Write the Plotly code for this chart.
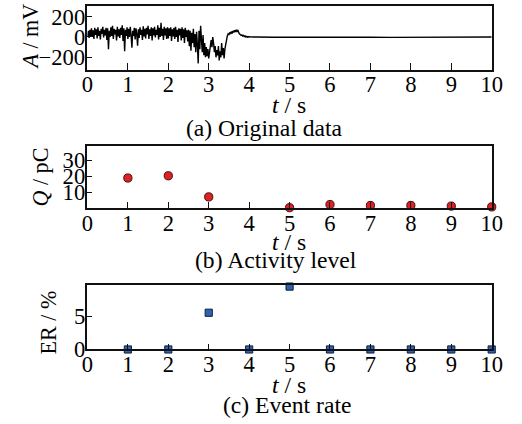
import plotly.graph_objects as go

W, H = 522, 424
S = 0.974  # observed uniform shrink of the photographed page; compensate
FONT = "Liberation Serif"

# ---------------- data ----------------
# (a) original signal, sampled every 0.02 s from t = 0 to 4.10 s (values in mV, read from picture)
sig_dt = 0.02
sig_vals = [
    10, 60, -10, 70, 5, 85, 0, 65, -20, 90, 20, 75, -15, 95, 10, 60, -25, 80, 30, 100,
    -5, 70, 15, 90, -30, 85, -120, 60, 0, 95, 10, 110, -20, 80, 25, 70, -35, 100, 5, 75,
    -10, 90, 20, 115, -40, 85, -140, 70, 10, 95,
    -20, 80, 0, 100, 15, -105, 60, 10, 90, -25, 85, 30, -85, 75, -10, 95, 20, 70, -30, 105,
    5, 80, -15, 90, 25, 110, -20, 75, 10, 95, -35, 85, 15, 100, -5, 70, 20, 115, -25, 90,
    0, 140, 10, 80, -30, 100, 15, 85, -20, 95,
    -15, 85, 10, 95, -40, 75, 5, 90, -20, 100, 0, 70, -50, 85, 15, 80, -35, 95, -10, 75,
    -60, 90, 0, 65, -45,
    70, -90, 60, -135, 40, -60, 80, -100, 30, -150, 50, -80, -260, 60, -120, 110,
    -40, -150, 20, -180, -60, -200, -100, -190, -120, -210, -150, -90, -30, -100, 0, -60,
    -150, -90, -200, -130, -180, -90, -230, -140, -200, -60, -180, -110, -210, -120, -60, -20,
    10, 30, 20,
    45, 30, 55, 35, 60, 45, 65, 50, 70, 55, 65, 40, 30, 25, 15, 20, 10, 15, 5, 10,
    0, 5, -2, 3, -3, 2, -2, 1, 0, -1,
]
tail_t = [4.2, 4.6, 5.0, 5.5, 6.0, 6.5, 7.0, 7.5, 8.0, 8.5, 9.0, 9.5, 10.0]
tail_vals = [0, -3, -2, -4, -3, -4, -3, -4, -3, -2, -3, 0, 0]

# (b) activity level Q / pC
q_t = [1, 2, 3, 4, 5, 6, 7, 8, 9, 10]
q_vals = [19, 20.4, 7.1, 40, 0.3, 2.3, 1.7, 1.7, 1.3, 0.8]

# (c) event rate ER / %
er_t = [1, 2, 3, 4, 5, 6, 7, 8, 9, 10]
er_vals = [0, 0, 5.55, 0, 9.5, 0, 0, 0, 0, 0]

a_ticks = [-200, 0, 200]
b_ticks = [10, 20, 30]
c_ticks = [0, 5]
x_ticks = list(range(0, 11))

# ---------------- figure ----------------
sig_t = [round(i * sig_dt, 4) for i in range(len(sig_vals))]
full_t = sig_t + tail_t
full_v = sig_vals + tail_vals


def px_x(x):
    return min(1.0, (x / S) / W)


def px_y(y):
    return min(1.0, max(0.0, 1 - (y / S) / H))


def sz(v):
    return v / S


fig = go.Figure()

fig.add_trace(go.Scatter(x=full_t, y=full_v, mode="lines",
                         line=dict(color="black", width=1.4),
                         xaxis="x", yaxis="y", showlegend=False))

# Q markers: the one at the top is clipped by the frame
clip_idx = [i for i, v in enumerate(q_vals) if v > 39]
free_idx = [i for i, v in enumerate(q_vals) if v <= 39]
qm = dict(symbol="circle", size=sz(8), color="#dd2226",
          line=dict(color="#4a0d0d", width=1))
fig.add_trace(go.Scatter(x=[q_t[i] for i in free_idx], y=[q_vals[i] for i in free_idx],
                         mode="markers", marker=qm, cliponaxis=False,
                         xaxis="x2", yaxis="y2", showlegend=False))
fig.add_trace(go.Scatter(x=[q_t[i] for i in clip_idx], y=[q_vals[i] for i in clip_idx],
                         mode="markers", marker=qm, cliponaxis=True,
                         xaxis="x2", yaxis="y2", showlegend=False))

fig.add_trace(go.Scatter(x=er_t, y=er_vals, mode="markers",
                         marker=dict(symbol="square", size=sz(7), color="#2f62b0",
                                     line=dict(color="#0e1f40", width=1)),
                         cliponaxis=False,
                         xaxis="x3", yaxis="y3", showlegend=False))

xdom = [px_x(82), px_x(489)]
tickfont = dict(family=FONT, size=sz(22), color="black")
axis_common = dict(showline=True, linecolor="#111", linewidth=1.5, mirror=True,
                   showgrid=False, zeroline=False, ticks="inside",
                   tickcolor="#111", tickwidth=1.3, tickfont=tickfont)


def xaxis(anchor, ticklen):
    return dict(domain=xdom, anchor=anchor, range=[0, 10], tickvals=x_ticks,
                ticklen=sz(ticklen), ticklabelstandoff=-6, **axis_common)


def yaxis(anchor, dom, rng, tv):
    return dict(domain=dom, anchor=anchor, range=rng, tickvals=tv, ticklen=sz(5),
                ticklabelstandoff=-4, **axis_common)


fig.update_layout(
    width=W, height=H,
    margin=dict(l=0, r=0, t=0, b=0),
    paper_bgcolor="white", plot_bgcolor="white",
    font=dict(family=FONT, size=sz(22), color="black"),
    xaxis=xaxis("y", 7),
    yaxis=yaxis("x", [px_y(69), px_y(5)], [-320, 305], a_ticks),
    xaxis2=xaxis("y2", 7),
    yaxis2=yaxis("x2", [px_y(209), px_y(146)], [-0.2, 39.2], b_ticks),
    xaxis3=xaxis("y3", 6),
    yaxis3=yaxis("x3", [px_y(351), px_y(286)], [0, 9.75], c_ticks),
)

ann = []


def add_text(text, x, y, angle=0, size=23):
    ann.append(dict(text=text, x=px_x(x), y=px_y(y), xref="paper", yref="paper",
                    showarrow=False, textangle=angle, xanchor="center", yanchor="middle",
                    font=dict(family=FONT, size=sz(size), color="black")))


add_text("<i>A</i> / mV", 25, 36, -90, 21.5)
add_text("<i>Q</i> / pC", 35, 177, -90, 21.5)
add_text("ER / %", 43, 324, -90, 21.5)
add_text("<i>t</i> / s", 285, 105)
add_text("<i>t</i> / s", 285, 243)
add_text("<i>t</i> / s", 285, 387)
add_text("(a) Original data", 260, 128)
add_text("(b) Activity level", 272, 261)
add_text("(c) Event rate", 283, 407)
fig.update_layout(annotations=ann)

fig.write_html("out.html", config={"displayModeBar": False},
               post_script="document.body.style.margin='0';document.body.style.overflow='hidden';")
